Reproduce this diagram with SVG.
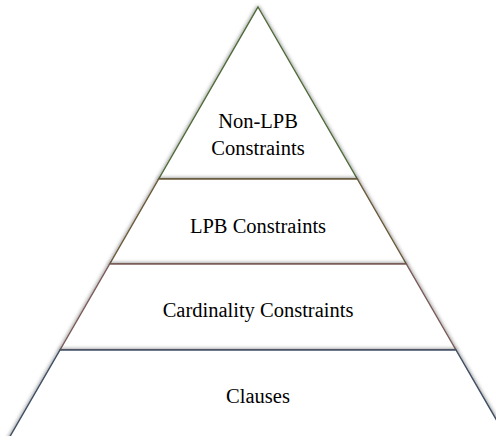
<svg xmlns="http://www.w3.org/2000/svg" width="496" height="436" viewBox="0 0 496 436">
  <defs>
    <filter id="glow" x="-20%" y="-20%" width="140%" height="140%">
      <feGaussianBlur in="SourceAlpha" stdDeviation="2.2" result="b"/>
      <feComponentTransfer in="b" result="s">
        <feFuncA type="linear" slope="0.55"/>
      </feComponentTransfer>
      <feMerge>
        <feMergeNode in="s"/>
        <feMergeNode in="SourceGraphic"/>
      </feMerge>
    </filter>
  </defs>
  <style>
    .tier { fill: #ffffff; stroke-width: 1.4; filter: url(#glow); }
    .label { font-family: "Liberation Serif", "Times New Roman", serif; font-size: 20.5px; fill: #000000; text-anchor: middle; }
  </style>
  <rect width="496" height="436" fill="#ffffff"/>

  <!-- apex tier -->
  <g id="tier-non-lpb">
    <polygon class="tier" stroke="#4f6b3a" points="258,7 357.3,179 158.7,179"/>
    <text class="label" x="258" y="128">Non-LPB</text>
    <text class="label" x="258" y="155">Constraints</text>
  </g>

  <g id="tier-lpb">
    <polygon class="tier" stroke="#6b5a3a" points="158.7,179 357.3,179 406.3,264 109.7,264"/>
    <text class="label" x="258" y="233">LPB Constraints</text>
  </g>

  <g id="tier-cardinality">
    <polygon class="tier" stroke="#7a5c5a" points="109.7,264 406.3,264 456,350 60,350"/>
    <text class="label" x="258" y="317">Cardinality Constraints</text>
  </g>

  <g id="tier-clauses">
    <polygon class="tier" stroke="#3f4f63" points="60,350 456,350 509.8,443 6.2,443"/>
    <text class="label" x="258" y="403">Clauses</text>
  </g>

  <g id="connectors"></g>
</svg>
